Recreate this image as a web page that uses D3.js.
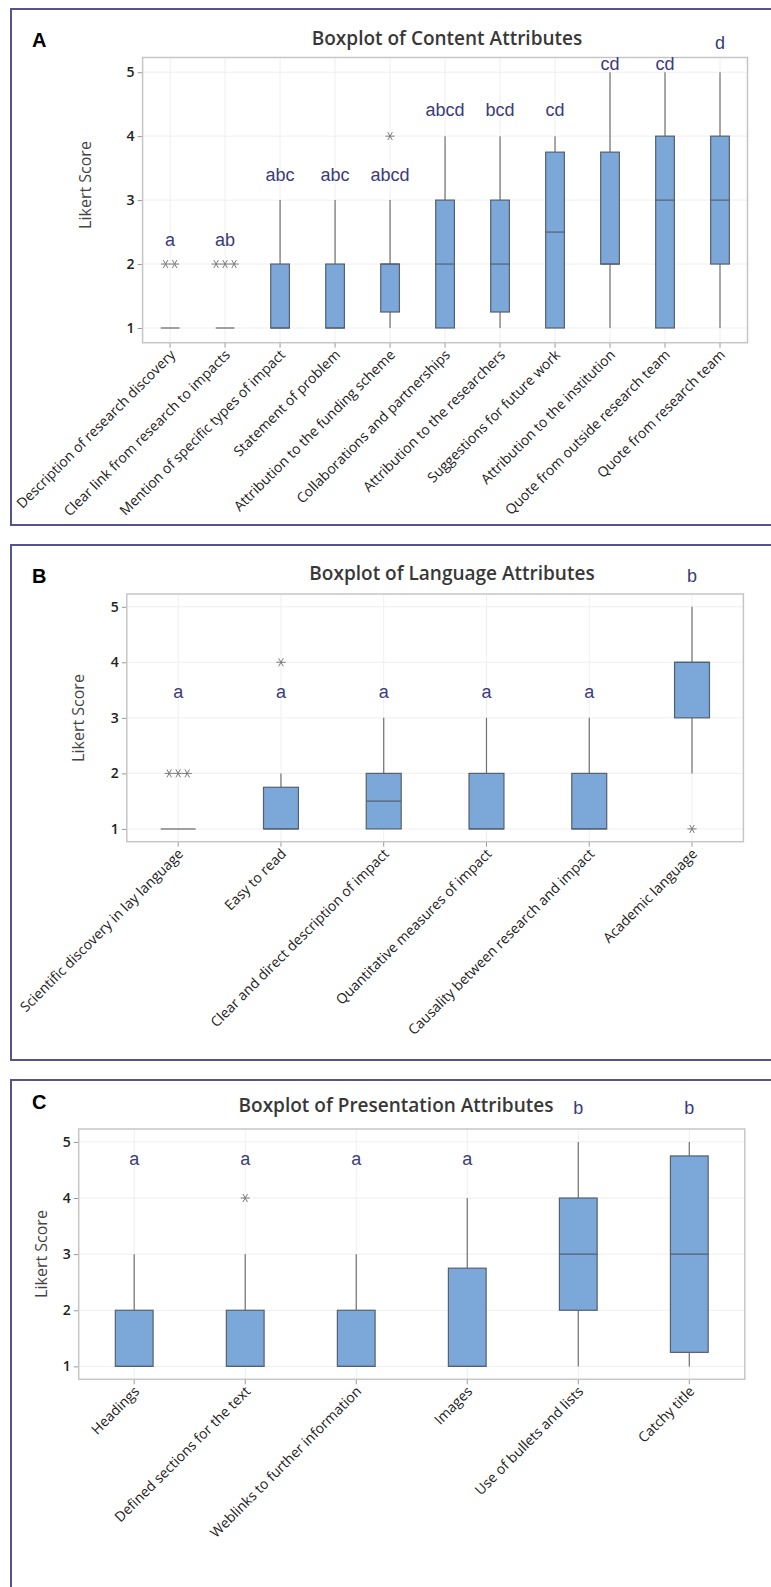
<!DOCTYPE html>
<html>
<head>
<meta charset="utf-8">
<script src="https://cdn.jsdelivr.net/npm/d3@7"></script>
<style>
  body { margin: 0; background: #fff; }
  svg { display: block; }
</style>
</head>
<body>
<script>
// ---- Panel A: content attributes ----
const contentCats = ["Description of research discovery", "Clear link from research to impacts",
  "Mention of specific types of impact", "Statement of problem", "Attribution to the funding scheme",
  "Collaborations and partnerships", "Attribution to the researchers", "Suggestions for future work",
  "Attribution to the institution", "Quote from outside research team", "Quote from research team"];
const contentQ1 = [1, 1, 1, 1, 1.25, 1, 1.25, 1, 2, 1, 2];
const contentMedian = [1, 1, 1, 1, 2, 2, 2, 2.5, 2, 3, 3];
const contentQ3 = [1, 1, 2, 2, 2, 3, 3, 3.75, 3.75, 4, 4];
const contentLow = [1, 1, 1, 1, 1, 1, 1, 1, 1, 1, 1];
const contentHigh = [1, 1, 3, 3, 3, 4, 4, 4, 5, 5, 5];
const contentOutliers = [[2, 2], [2, 2, 2], [], [], [4], [], [], [], [], [], []];
const contentLetters = ["a", "ab", "abc", "abc", "abcd", "abcd", "bcd", "cd", "cd", "cd", "d"];
const contentLetterAt = [2.28, 2.28, 3.3, 3.3, 3.3, 4.32, 4.32, 4.32, 5.03, 5.03, 5.36];

// ---- Panel B: language attributes ----
const languageCats = ["Scientific discovery in lay language", "Easy to read",
  "Clear and direct description of impact", "Quantitative measures of impact",
  "Causality between research and impact", "Academic language"];
const languageQ1 = [1, 1, 1, 1, 1, 3];
const languageMedian = [1, 1, 1.5, 1, 1, 4];
const languageQ3 = [1, 1.75, 2, 2, 2, 4];
const languageLow = [1, 1, 1, 1, 1, 2];
const languageHigh = [1, 2, 3, 3, 3, 5];
const languageOutliers = [[2, 2, 2], [4], [], [], [], [1]];
const languageLetters = ["a", "a", "a", "a", "a", "b"];
const languageLetterAt = [3.36, 3.36, 3.36, 3.36, 3.36, 5.45];

// ---- Panel C: presentation attributes ----
const presentationCats = ["Headings", "Defined sections for the text", "Weblinks to further information",
  "Images", "Use of bullets and lists", "Catchy title"];
const presentationQ1 = [1, 1, 1, 1, 2, 1.25];
const presentationMedian = [1, 1, 1, 1, 3, 3];
const presentationQ3 = [2, 2, 2, 2.75, 4, 4.75];
const presentationLow = [1, 1, 1, 1, 1, 1];
const presentationHigh = [3, 3, 3, 4, 5, 5];
const presentationOutliers = [[], [4], [], [], [], []];
const presentationLetters = ["a", "a", "a", "a", "b", "b"];
const presentationLetterAt = [4.59, 4.59, 4.59, 4.59, 5.49, 5.49];

const yTicks = [1, 2, 3, 4, 5];

const panels = [
  { tag: "A", title: "Boxplot of Content Attributes", top: 9, bottom: 525,
    fx0: 142.6, fx1: 747.5, fy0: 57.5, fy1: 342.7, titleX: 447, titleY: 45, tagY: 47,
    ylabX: 91, ylabY: 185,
    cats: contentCats, q1: contentQ1, med: contentMedian, q3: contentQ3, lo: contentLow, hi: contentHigh,
    out: contentOutliers, letters: contentLetters, letterAt: contentLetterAt },
  { tag: "B", title: "Boxplot of Language Attributes", top: 545, bottom: 1060,
    fx0: 126.8, fx1: 743.4, fy0: 594, fy1: 841.7, titleX: 452, titleY: 580, tagY: 583,
    ylabX: 84, ylabY: 718,
    cats: languageCats, q1: languageQ1, med: languageMedian, q3: languageQ3, lo: languageLow, hi: languageHigh,
    out: languageOutliers, letters: languageLetters, letterAt: languageLetterAt },
  { tag: "C", title: "Boxplot of Presentation Attributes", top: 1080, bottom: 1620,
    fx0: 78.7, fx1: 744.8, fy0: 1129, fy1: 1379.3, titleX: 396, titleY: 1112, tagY: 1109,
    ylabX: 47, ylabY: 1254,
    cats: presentationCats, q1: presentationQ1, med: presentationMedian, q3: presentationQ3,
    lo: presentationLow, hi: presentationHigh,
    out: presentationOutliers, letters: presentationLetters, letterAt: presentationLetterAt }
];

const svg = d3.select("body").append("svg")
  .attr("width", 771).attr("height", 1587);

// asterisk used by Minitab for outliers
function star(r) {
  const a = Math.PI / 3;
  let d = `M${-r},0L${r},0`;
  [a, -a].forEach(t => {
    d += `M${-r * Math.cos(t)},${-r * Math.sin(t)}L${r * Math.cos(t)},${r * Math.sin(t)}`;
  });
  return d;
}

panels.forEach(p => {
  const g = svg.append("g");

  g.append("rect")
    .attr("x", 11).attr("y", p.top)
    .attr("width", 820).attr("height", p.bottom - p.top)
    .attr("fill", "none").attr("stroke", "#55558a").attr("stroke-width", 2);

  g.append("text")
    .attr("x", 32).attr("y", p.tagY)
    .attr("font-family", "Liberation Sans, Arial, sans-serif")
    .attr("font-weight", "bold").attr("font-size", 20)
    .attr("fill", "#000").text(p.tag);

  g.append("text")
    .attr("x", p.titleX).attr("y", p.titleY)
    .attr("text-anchor", "middle")
    .attr("font-family", "Open Sans, sans-serif")
    .attr("font-weight", 600).attr("font-size", 19)
    .attr("fill", "#383838").text(p.title);

  const x = d3.scaleBand().domain(p.cats).range([p.fx0, p.fx1]);
  const y = d3.scaleLinear().domain([0.77, 5.23]).range([p.fy1, p.fy0]);
  const bw = x.bandwidth() * 0.34;
  const cx = c => x(c) + x.bandwidth() / 2;

  // grid
  g.append("g").selectAll("line").data(yTicks).join("line")
    .attr("x1", p.fx0).attr("x2", p.fx1)
    .attr("y1", d => y(d)).attr("y2", d => y(d))
    .attr("stroke", "#efefef").attr("stroke-width", 1);
  g.append("g").selectAll("line").data(p.cats).join("line")
    .attr("x1", cx).attr("x2", cx)
    .attr("y1", p.fy0).attr("y2", p.fy1)
    .attr("stroke", "#efefef").attr("stroke-width", 1);

  // axes
  const ya = g.append("g")
    .attr("transform", `translate(${p.fx0},0)`)
    .call(d3.axisLeft(y).tickValues(yTicks).tickSize(5).tickPadding(3).tickFormat(d3.format("d")));
  ya.select(".domain").remove();
  ya.selectAll(".tick line").attr("stroke", "#999");
  ya.selectAll(".tick text")
    .attr("font-family", "Open Sans, sans-serif").attr("font-weight", 600)
    .attr("font-size", 14).attr("fill", "#222");

  const xa = g.append("g")
    .attr("transform", `translate(0,${p.fy1})`)
    .call(d3.axisBottom(x).tickSize(5).tickFormat(""));
  xa.select(".domain").remove();
  xa.selectAll(".tick line").attr("stroke", "#999");

  g.append("g").selectAll("text").data(p.cats).join("text")
    .attr("transform", d => `translate(${cx(d) + 6},${p.fy1 + 13}) rotate(-45)`)
    .attr("text-anchor", "end")
    .attr("font-family", "Open Sans, sans-serif")
    .attr("font-size", 14).attr("fill", "#222")
    .text(d => d);

  g.append("text")
    .attr("transform", `translate(${p.ylabX},${p.ylabY}) rotate(-90)`)
    .attr("text-anchor", "middle")
    .attr("font-family", "Open Sans, sans-serif")
    .attr("font-size", 16).attr("fill", "#444")
    .text("Likert Score");

  // frame
  g.append("rect")
    .attr("x", p.fx0).attr("y", p.fy0)
    .attr("width", p.fx1 - p.fx0).attr("height", p.fy1 - p.fy0)
    .attr("fill", "none").attr("stroke", "#c6c6c6").attr("stroke-width", 1.5);

  const rows = p.cats.map((c, i) => ({
    c, q1: p.q1[i], med: p.med[i], q3: p.q3[i], lo: p.lo[i], hi: p.hi[i],
    out: p.out[i], letter: p.letters[i], at: p.letterAt[i]
  }));

  const box = g.append("g").selectAll("g").data(rows).join("g");

  // whiskers
  box.filter(d => d.hi > d.q3).append("line")
    .attr("x1", d => cx(d.c)).attr("x2", d => cx(d.c))
    .attr("y1", d => y(d.q3)).attr("y2", d => y(d.hi))
    .attr("stroke", "#707070").attr("stroke-width", 1.2);
  box.filter(d => d.lo < d.q1).append("line")
    .attr("x1", d => cx(d.c)).attr("x2", d => cx(d.c))
    .attr("y1", d => y(d.q1)).attr("y2", d => y(d.lo))
    .attr("stroke", "#707070").attr("stroke-width", 1.2);

  // boxes
  box.filter(d => d.q3 > d.q1).append("rect")
    .attr("x", d => cx(d.c) - bw / 2).attr("width", bw)
    .attr("y", d => y(d.q3)).attr("height", d => y(d.q1) - y(d.q3))
    .attr("fill", "#7ba7d9").attr("stroke", "#556070").attr("stroke-width", 1.2);
  box.filter(d => d.q3 > d.q1).append("line")
    .attr("x1", d => cx(d.c) - bw / 2).attr("x2", d => cx(d.c) + bw / 2)
    .attr("y1", d => y(d.med)).attr("y2", d => y(d.med))
    .attr("stroke", "#556070").attr("stroke-width", 1.2);
  // collapsed boxes
  box.filter(d => d.q3 === d.q1).append("line")
    .attr("x1", d => cx(d.c) - bw / 2).attr("x2", d => cx(d.c) + bw / 2)
    .attr("y1", d => y(d.q1)).attr("y2", d => y(d.q1))
    .attr("stroke", "#a0a0a0").attr("stroke-width", 2);

  // outliers, side by side when tied
  box.each(function(d) {
    const n = d.out.length;
    d3.select(this).selectAll("path").data(d.out).join("path")
      .attr("transform", (v, k) => `translate(${cx(d.c) + (k - (n - 1) / 2) * 9},${y(v)})`)
      .attr("d", star(4.6))
      .attr("stroke", "#7a7a7a").attr("stroke-width", 1).attr("fill", "none");
  });

  // grouping letters
  box.append("text")
    .attr("x", d => cx(d.c)).attr("y", d => y(d.at))
    .attr("text-anchor", "middle")
    .attr("font-family", "Liberation Sans, Arial, sans-serif")
    .attr("font-size", 18).attr("fill", "#3b3b7a")
    .text(d => d.letter);
});
</script>
</body>
</html>
